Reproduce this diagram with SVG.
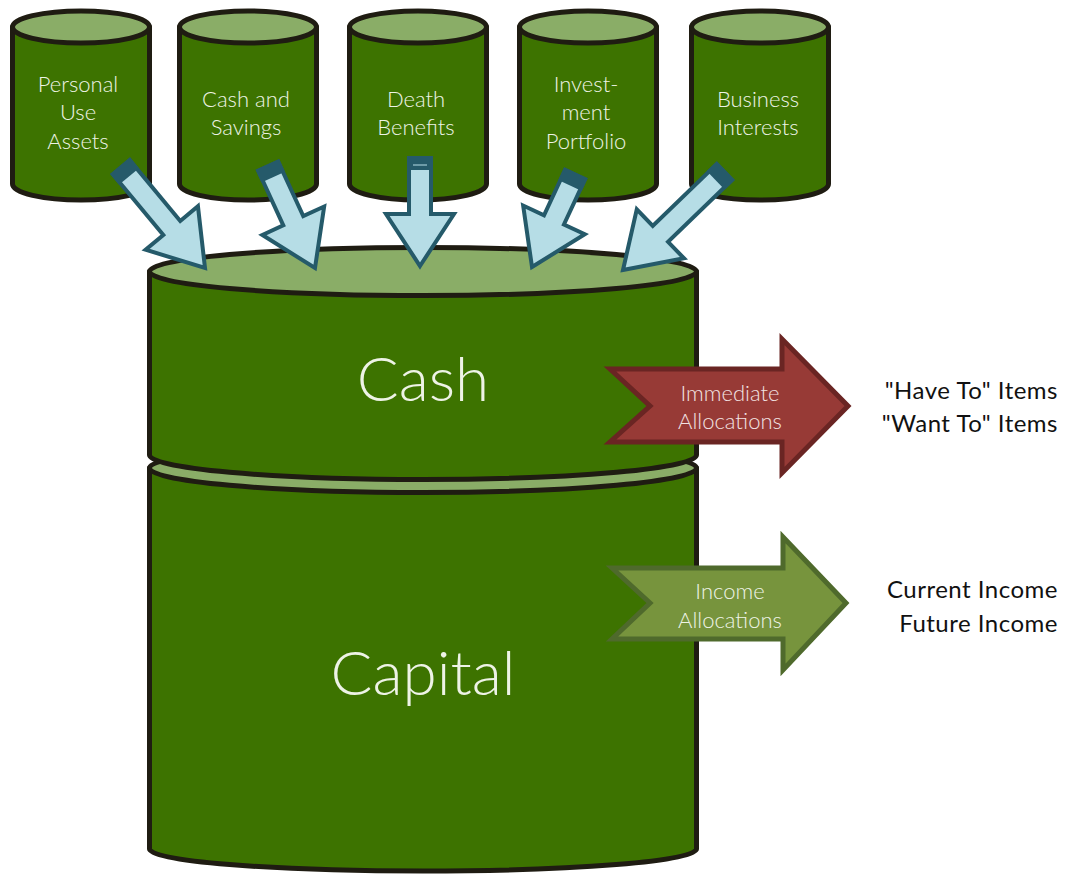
<svg xmlns="http://www.w3.org/2000/svg" width="1065" height="875" viewBox="0 0 1065 875">
  <defs>
    <style>
      .body { fill: #3d7300; stroke: #1f1c12; stroke-width: 5; stroke-linejoin: round; }
      .lid { fill: #8aad67; stroke: #1f1c12; stroke-width: 5; }
      .lbl { font-family: Lato, "Open Sans", sans-serif; font-weight: 300; fill: #eef3e6; text-anchor: middle; }
      .small { font-size: 22px; }
      .big { font-size: 62px; }
      .flow { fill: #b6dde6; stroke: #255a6a; stroke-width: 4; stroke-linejoin: miter; }
      .band { fill: #255a6a; }
      .side { font-family: Lato, "Open Sans", sans-serif; font-size: 24px; letter-spacing: 0.5px; fill: #111; text-anchor: end; }
      .chev-lbl { font-family: Lato, "Open Sans", sans-serif; font-weight: 300; font-size: 22px; text-anchor: middle; }
    </style>
  </defs>

  <rect width="1065" height="875" fill="#ffffff"/>

  <!-- Capital (lower tank) -->
  <g id="capital">
    <path class="body" d="M149.5,468 L149.5,849 A273.5,22 0 0 0 696.5,849 L696.5,468 Z"/>
    <ellipse class="lid" cx="423" cy="468" rx="273.5" ry="24.5"/>
    <text class="lbl big" x="423" y="695">Capital</text>
  </g>

  <!-- Cash (upper tank) -->
  <g id="cash">
    <path class="body" d="M149.5,271.5 L149.5,455 A273.5,24.5 0 0 0 696.5,455 L696.5,271.5 Z"/>
    <ellipse class="lid" cx="423" cy="271.5" rx="273.5" ry="24"/>
    <text class="lbl big" x="423" y="401">Cash</text>
  </g>

  <!-- Source tanks -->
  <g id="personal-use-assets">
    <path class="body" d="M12.5,27 L12.5,184 A68.5,16 0 0 0 149.5,184 L149.5,27 Z"/>
    <ellipse class="lid" cx="81" cy="27" rx="68.5" ry="16"/>
    <text class="lbl small" x="78" y="92">Personal</text>
    <text class="lbl small" x="78" y="120">Use</text>
    <text class="lbl small" x="78" y="149">Assets</text>
  </g>
  <g id="cash-and-savings">
    <path class="body" d="M179.5,27 L179.5,184 A68.5,16 0 0 0 316.5,184 L316.5,27 Z"/>
    <ellipse class="lid" cx="248" cy="27" rx="68.5" ry="16"/>
    <text class="lbl small" x="246" y="107">Cash and</text>
    <text class="lbl small" x="246" y="135">Savings</text>
  </g>
  <g id="death-benefits">
    <path class="body" d="M349.5,27 L349.5,184 A68.5,16 0 0 0 486.5,184 L486.5,27 Z"/>
    <ellipse class="lid" cx="418" cy="27" rx="68.5" ry="16"/>
    <text class="lbl small" x="416" y="107">Death</text>
    <text class="lbl small" x="416" y="135">Benefits</text>
  </g>
  <g id="investment-portfolio">
    <path class="body" d="M519.5,27 L519.5,184 A68.5,16 0 0 0 656.5,184 L656.5,27 Z"/>
    <ellipse class="lid" cx="588" cy="27" rx="68.5" ry="16"/>
    <text class="lbl small" x="586" y="92">Invest-</text>
    <text class="lbl small" x="586" y="120">ment</text>
    <text class="lbl small" x="586" y="149">Portfolio</text>
  </g>
  <g id="business-interests">
    <path class="body" d="M691.5,27 L691.5,184 A68.5,16 0 0 0 828.5,184 L828.5,27 Z"/>
    <ellipse class="lid" cx="760" cy="27" rx="68.5" ry="16"/>
    <text class="lbl small" x="758" y="107">Business</text>
    <text class="lbl small" x="758" y="135">Interests</text>
  </g>

  <!-- Inflow connectors: tip at origin, pointing along +x -->
  <g id="connectors">
    <g transform="translate(205,268) rotate(50.3)">
      <path class="flow" d="M0,0 L-52,-34 L-52,-11 L-131,-11 L-131,11 L-52,11 L-52,34 Z"/>
      <rect class="band" x="-133" y="-13" width="14" height="26"/>
    </g>
    <g transform="translate(315,268) rotate(65.3)">
      <path class="flow" d="M0,0 L-52,-34 L-52,-11 L-112,-11 L-112,11 L-52,11 L-52,34 Z"/>
      <rect class="band" x="-114" y="-13" width="14" height="26"/>
    </g>
    <g transform="translate(420,266) rotate(90)">
      <path class="flow" d="M0,0 L-52,-34 L-52,-11 L-108,-11 L-108,11 L-52,11 L-52,34 Z"/>
      <rect class="band" x="-110" y="-13" width="14" height="26"/>
      <line x1="-101" y1="-7" x2="-101" y2="7" stroke="#b6dde6" stroke-width="1"/>
    </g>
    <g transform="translate(532,267) rotate(115)">
      <path class="flow" d="M0,0 L-52,-34 L-52,-11 L-102,-11 L-102,11 L-52,11 L-52,34 Z"/>
      <rect class="band" x="-104" y="-13" width="14" height="26"/>
    </g>
    <g transform="translate(623,270) rotate(136)">
      <path class="flow" d="M0,0 L-52,-34 L-52,-11 L-141,-11 L-141,11 L-52,11 L-52,34 Z"/>
      <rect class="band" x="-143" y="-13" width="14" height="26"/>
    </g>
  </g>

  <!-- Outflow chevrons -->
  <g id="immediate-allocations">
    <path d="M610,369 L650,406 L610,442 L782,442 L782,473 L848,406 L782,339 L782,369 Z" fill="#973a36" stroke="#6a2523" stroke-width="5" stroke-linejoin="miter"/>
    <text class="chev-lbl" x="730" y="401" fill="#f2e2e2">Immediate</text>
    <text class="chev-lbl" x="730" y="429" fill="#f2e2e2">Allocations</text>
  </g>
  <g id="income-allocations">
    <path d="M612,568 L650,603 L612,639 L783,639 L783,670 L846,603 L783,537 L783,568 Z" fill="#77943d" stroke="#4f6a2c" stroke-width="5" stroke-linejoin="miter"/>
    <text class="chev-lbl" x="730" y="599" fill="#eef3e6">Income</text>
    <text class="chev-lbl" x="730" y="628" fill="#eef3e6">Allocations</text>
  </g>

  <!-- Destination notes -->
  <g id="immediate-items">
    <text class="side" x="1058" y="399">"Have To" Items</text>
    <text class="side" x="1058" y="432">"Want To" Items</text>
  </g>
  <g id="income-items">
    <text class="side" x="1058" y="598">Current Income</text>
    <text class="side" x="1058" y="632">Future Income</text>
  </g>
</svg>
